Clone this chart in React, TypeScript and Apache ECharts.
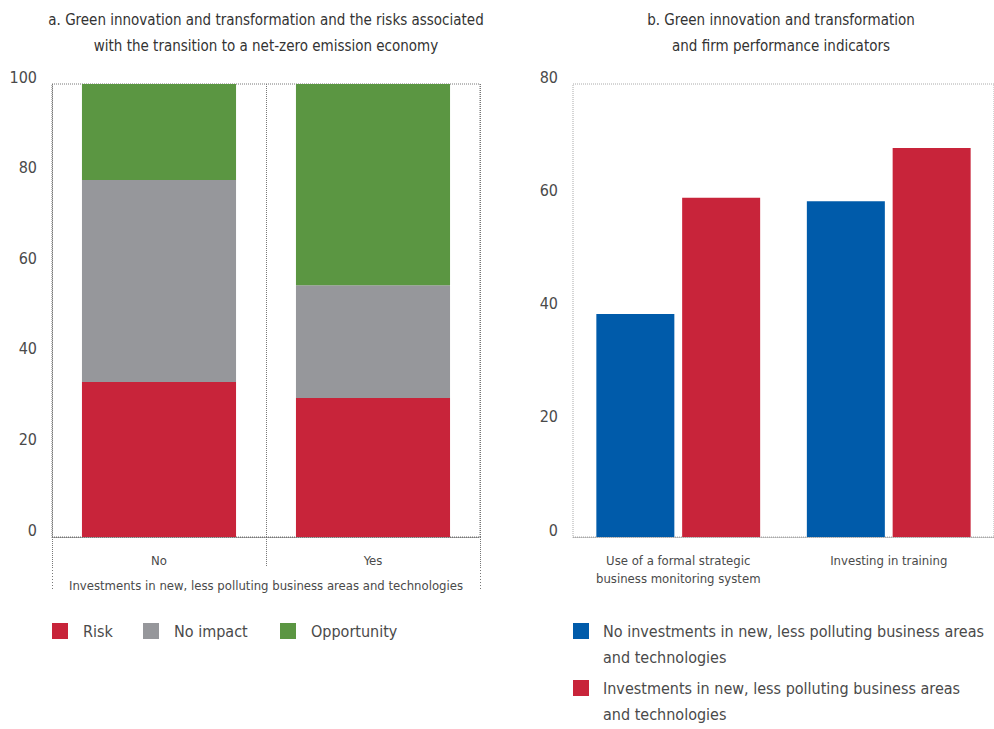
import React, { useEffect, useRef } from 'react';
import * as echarts from 'echarts';

const FONT = "'DejaVu Sans Condensed', 'Liberation Sans Narrow', sans-serif";
const TEXT = '#4a4a4a';

// Panel a
const leftTitle = 'a. Green innovation and transformation and the risks associated\nwith the transition to a net-zero emission economy';
const leftCategories = ['No', 'Yes'];
const leftAxisName = 'Investments in new, less polluting business areas and technologies';
const riskValues = [34.2, 30.7];
const noImpactValues = [44.6, 24.9];
const opportunityValues = [21.2, 44.4];
const leftSeriesNames = ['Risk', 'No impact', 'Opportunity'];

// Panel b
const rightTitle = 'b. Green innovation and transformation\nand firm performance indicators';
const rightCategories = ['Use of a formal strategic\nbusiness monitoring system', 'Investing in training'];
const noInvestName = 'No investments in new, less polluting business areas and technologies';
const investName = 'Investments in new, less polluting business areas and technologies';
const noInvestValues = [39.4, 59.3];
const investValues = [59.9, 68.7];

const RED = '#C8243A';
const GREY = '#96979B';
const GREEN = '#5B9642';
const BLUE = '#005BAA';

export default function App() {
  const ref = useRef<HTMLDivElement>(null);
  useEffect(() => {
    if (!ref.current) return;
    const chart = echarts.init(ref.current, null, { renderer: 'svg' });
    const dotted = (color: string) => ({ color, type: 'dotted' as const, width: 1 });
    const legendBase = {
      itemWidth: 16,
      itemHeight: 16,
      padding: 0,
      icon: 'rect',
      selectedMode: false,
      textStyle: { fontSize: 16, color: TEXT, fontFamily: FONT, padding: [0, 0, 0, 10] },
    };
    const wrapLegend = (n: string) => n.replace(' and technologies', '\nand technologies');
    const titleStyle = { fontSize: 15, fontWeight: 'normal', color: '#333', fontFamily: FONT, lineHeight: 26, align: 'center' };
    const yLabel = { fontSize: 16, color: TEXT, fontFamily: FONT, margin: 15, verticalAlign: 'bottom', lineHeight: 14 };
    const option: any = {
      animation: false,
      textStyle: { fontFamily: FONT },
      title: [
        { text: leftTitle, left: 266, top: 7, padding: 0, textAlign: 'center', textStyle: titleStyle },
        { text: rightTitle, left: 781, top: 7, padding: 0, textAlign: 'center', textStyle: titleStyle },
      ],
      grid: [
        { left: 52, top: 84, width: 428, height: 453, show: true, borderColor: '#777', borderWidth: 1, borderType: 'dotted', backgroundColor: 'transparent' },
        { left: 573, top: 84, width: 428, height: 453, show: true, borderColor: '#aaa', borderWidth: 1, borderType: 'dotted', backgroundColor: 'transparent' },
      ],
      xAxis: [
        {
          type: 'category',
          gridIndex: 0,
          data: leftCategories,
          axisLine: { lineStyle: dotted('#777') },
          axisTick: { show: true, length: 30, lineStyle: dotted('#777') },
          splitLine: { show: true, lineStyle: dotted('#777') },
          axisLabel: { fontSize: 13, color: TEXT, fontFamily: FONT, margin: 17, interval: 0 },
          name: leftAxisName,
          nameLocation: 'middle',
          nameGap: 42,
          nameTextStyle: { fontSize: 13, color: TEXT, fontFamily: FONT },
        },
        {
          type: 'category',
          gridIndex: 1,
          data: rightCategories,
          axisLine: { lineStyle: dotted('#aaa') },
          axisTick: { show: false },
          splitLine: { show: false },
          axisLabel: { fontSize: 13, color: TEXT, fontFamily: FONT, margin: 14, lineHeight: 18, interval: 0 },
        },
      ],
      yAxis: [
        {
          type: 'value',
          gridIndex: 0,
          min: 0,
          max: 100,
          interval: 20,
          axisLine: { show: false },
          axisTick: { show: false },
          splitLine: { show: false },
          axisLabel: yLabel,
        },
        {
          type: 'value',
          gridIndex: 1,
          min: 0,
          max: 80,
          interval: 20,
          axisLine: { show: false },
          axisTick: { show: false },
          splitLine: { show: false },
          axisLabel: yLabel,
        },
      ],
      legend: [
        { ...legendBase, data: [leftSeriesNames[0]], left: 52, top: 623 },
        { ...legendBase, data: [leftSeriesNames[1]], left: 143, top: 623 },
        { ...legendBase, data: [leftSeriesNames[2]], left: 280, top: 623 },
      ],
      graphic: [
        { type: 'line', shape: { x1: 52.5, y1: 567, x2: 52.5, y2: 590 }, style: { stroke: '#777', lineWidth: 1, lineDash: [1, 2] } },
        { type: 'line', shape: { x1: 480.5, y1: 567, x2: 480.5, y2: 590 }, style: { stroke: '#777', lineWidth: 1, lineDash: [1, 2] } },
        { type: 'rect', shape: { x: 573, y: 623, width: 16, height: 16 }, style: { fill: BLUE } },
        { type: 'text', x: 603, y: 618, style: { text: wrapLegend(noInvestName), fontSize: 16, lineHeight: 26, fill: TEXT, fontFamily: FONT, verticalAlign: 'top' } },
        { type: 'rect', shape: { x: 573, y: 680, width: 16, height: 16 }, style: { fill: RED } },
        { type: 'text', x: 603, y: 675, style: { text: wrapLegend(investName), fontSize: 16, lineHeight: 26, fill: TEXT, fontFamily: FONT, verticalAlign: 'top' } },
      ],
      series: [
        { name: leftSeriesNames[0], type: 'bar', stack: 'a', xAxisIndex: 0, yAxisIndex: 0, barWidth: '72%', data: riskValues, itemStyle: { color: RED } },
        { name: leftSeriesNames[1], type: 'bar', stack: 'a', xAxisIndex: 0, yAxisIndex: 0, barWidth: '72%', data: noImpactValues, itemStyle: { color: GREY } },
        { name: leftSeriesNames[2], type: 'bar', stack: 'a', xAxisIndex: 0, yAxisIndex: 0, barWidth: '72%', data: opportunityValues, itemStyle: { color: GREEN } },
        { name: noInvestName, type: 'bar', xAxisIndex: 1, yAxisIndex: 1, barWidth: 78, barGap: '10%', data: noInvestValues, itemStyle: { color: BLUE } },
        { name: investName, type: 'bar', xAxisIndex: 1, yAxisIndex: 1, barWidth: 78, barGap: '10%', data: investValues, itemStyle: { color: RED } },
      ],
    };
    chart.setOption(option);
    return () => chart.dispose();
  }, []);
  return (
    <div
      ref={ref}
      style={{ position: 'absolute', left: 0, top: 0, width: 994, height: 729, background: '#fff' }}
    />
  );
}
